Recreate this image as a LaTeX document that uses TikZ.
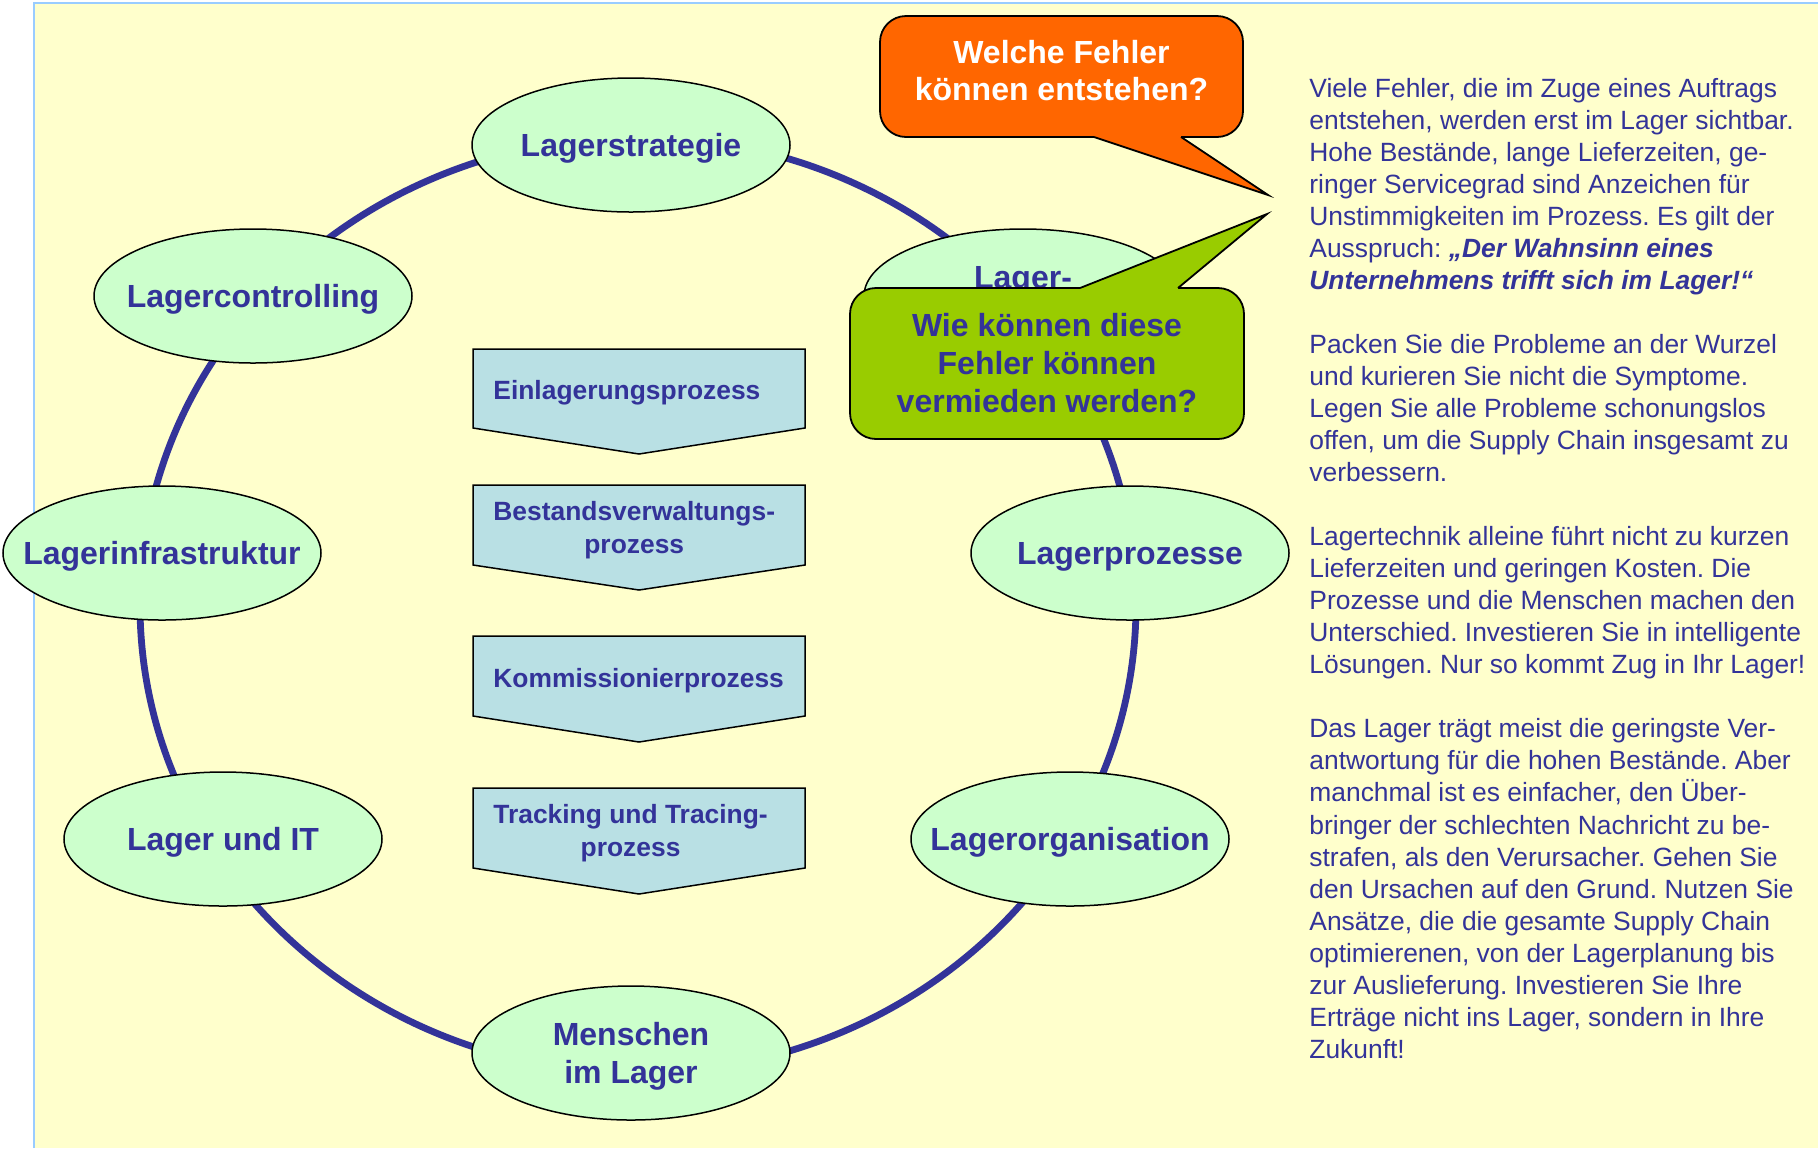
\documentclass[tikz,border=0pt]{standalone}
\usepackage{fontspec}
\setmainfont{Liberation Sans}
\usetikzlibrary{shapes.geometric}
\definecolor{bgyellow}{HTML}{FFFFCC}
\definecolor{ringblue}{HTML}{333399}
\definecolor{stagegreen}{HTML}{CCFFCC}
\definecolor{procblue}{HTML}{B9E0E4}
\definecolor{askorange}{HTML}{FF6600}
\definecolor{asklime}{HTML}{99CC00}
\definecolor{edgeblue}{HTML}{99CCFF}
\tikzset{
	stage/.style = {shape=ellipse, draw, line width=0.75pt, fill=stagegreen, text=ringblue, align=center, inner xsep=-16pt, inner ysep=0pt, text depth=0pt, minimum width=159pt, minimum height=67pt, font=\fontsize{16pt}{19pt}\selectfont\bfseries},
	proc/.style = {draw, line width=0.75pt, fill=procblue},
	proctext/.style = {anchor=west, inner sep=0pt, align=center, text depth=0pt, text=ringblue, font=\fontsize{13.2pt}{16.5pt}\selectfont\bfseries},
	ask/.style = {shape=rectangle, rounded corners=13pt, draw, line width=0.9pt, align=center, font=\fontsize{16pt}{18.5pt}\selectfont\bfseries},
	pointer/.style = {draw, line width=0.9pt, line join=miter},
	note/.style = {align=left, anchor=north west, inner sep=0pt, text=ringblue, font=\fontsize{13.2pt}{16.01pt}\selectfont},
}

\begin{document}
\frenchspacing
\begin{tikzpicture}[x=0.5pt, y=-0.5pt]
	\useasboundingbox (0,0) rectangle (1818,1148);
	\fill[bgyellow] (34,3) rectangle (1818,1148);
	\draw[edgeblue, line width=1pt] (34,1148) -- (34,3) -- (1818,3);

	% ring of topics
	\draw[ringblue, line width=3.4pt] (638,605) ellipse [x radius=249pt, y radius=234pt];

	\node[stage] (strategie) at (631,145) {Lagerstrategie};
	\node[stage] (controlling) at (253,296) {Lagercontrolling};
	\node[stage] (technik) at (1023,296) {Lager-\\\phantom{technik}};
	\node[stage] (infra) at (162,553) {Lagerinfrastruktur};
	\node[stage] (prozesse) at (1130,553) {Lagerprozesse};
	\node[stage] (it) at (223,839) {Lager und IT};
	\node[stage] (organisation) at (1070,839) {Lagerorganisation};
	\node[stage] (menschen) at (631,1053) {Menschen\\im Lager};

	% process steps
	\draw[proc] (473,349) -- (805,349) -- (805,428) -- (639,454) -- (473,428) -- cycle;
	\node[proctext] (einl) at (493,390) {Einlagerungsprozess};
	\draw[proc] (473,485) -- (805,485) -- (805,565) -- (639,590) -- (473,565) -- cycle;
	\node[proctext] (bestand) at (493,527) {Bestandsverwaltungs-\\prozess};
	\draw[proc] (473,636) -- (805,636) -- (805,716) -- (639,742) -- (473,716) -- cycle;
	\node[proctext] (komm) at (493,678) {Kommissionierprozess};
	\draw[proc] (473,788) -- (805,788) -- (805,868) -- (639,894) -- (473,868) -- cycle;
	\node[proctext] (track) at (493,830) {Tracking und Tracing-\\prozess};

	% questions
	\node[ask, fill=askorange, text=white, text depth=6pt, minimum width=181.5pt, minimum height=60.5pt] (welche) at (1061.5,76.5) {Welche Fehler\\können entstehen?};
	\coordinate (welche-tip) at (1268,195);
	\fill[askorange] (1094,137) -- (welche-tip) -- (1181,137) -- (1181,128) -- (1094,128) -- cycle;
	\draw[pointer] (1094,137) -- (welche-tip) -- (1181,137);

	\node[ask, fill=asklime, text=ringblue, minimum width=197pt, minimum height=75.5pt, font=\fontsize{16pt}{19pt}\selectfont\bfseries] (wie) at (1047,363.5) {Wie können diese\\Fehler können\\vermieden werden?};
	\coordinate (wie-tip) at (1267,214);
	\fill[asklime] (1080,288) -- (wie-tip) -- (1178,288) -- (1178,297) -- (1080,297) -- cycle;
	\draw[pointer] (1080,288) -- (wie-tip) -- (1178,288);

	% explanation
	\node[note] (erklaerung) at (1309,78) {Viele Fehler, die im Zuge eines Auftrags\\
		entstehen, werden erst im Lager sichtbar.\\
		Hohe Bestände, lange Lieferzeiten, ge-\\
		ringer Servicegrad sind Anzeichen für\\
		Unstimmigkeiten im Prozess. Es gilt der\\
		Ausspruch: \textbf{\textit{„Der Wahnsinn eines}}\\
		\textbf{\textit{Unternehmens trifft sich im Lager!“}}\\[16.01pt]
		Packen Sie die Probleme an der Wurzel\\
		und kurieren Sie nicht die Symptome.\\
		Legen Sie alle Probleme schonungslos\\
		offen, um die Supply Chain insgesamt zu\\
		verbessern.\\[16.01pt]
		Lagertechnik alleine führt nicht zu kurzen\\
		Lieferzeiten und geringen Kosten. Die\\
		Prozesse und die Menschen machen den\\
		Unterschied. Investieren Sie in intelligente\\
		Lösungen. Nur so kommt Zug in Ihr Lager!\\[16.01pt]
		Das Lager trägt meist die geringste Ver-\\
		antwortung für die hohen Bestände. Aber\\
		manchmal ist es einfacher, den Über-\\
		bringer der schlechten Nachricht zu be-\\
		strafen, als den Verursacher. Gehen Sie\\
		den Ursachen auf den Grund. Nutzen Sie\\
		Ansätze, die die gesamte Supply Chain\\
		optimierenen, von der Lagerplanung bis\\
		zur Auslieferung. Investieren Sie Ihre\\
		Erträge nicht ins Lager, sondern in Ihre\\
		Zukunft!};
\end{tikzpicture}
\end{document}
